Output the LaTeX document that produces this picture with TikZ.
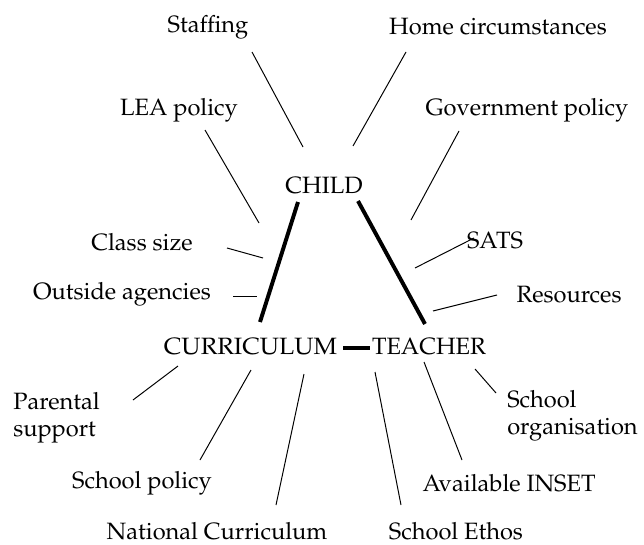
\documentclass[tikz,border=0pt]{standalone}
\usepackage[T1]{fontenc}
\usepackage{mathpazo}
\usetikzlibrary{positioning}

\begin{document}
\begin{tikzpicture}[x=0.025cm, y=-0.025cm,
    every node/.style={font=\fontsize{16.8}{19.5}\selectfont, inner sep=0pt},
    hub/.style={},
    factor/.style={align=center},
    factorleft/.style={align=left, anchor=west},
    spoke/.style={line width=0.7pt, black},
    link/.style={line width=2.8pt, black}
  ]
  \useasboundingbox (0,0) rectangle (644,545);

  % Dreieck in der Mitte
  \node[hub] (child)   at (324,186) {CHILD};
  \node[hub] (curric)  at (250.5,347) {\scalebox{1.05}[1]{CURRICULUM}};
  \node[hub] (teacher) at (429,347) {TEACHER};

  \coordinate (ch-l) at (298,202); \coordinate (cu-t) at (260,322);
  \coordinate (ch-r) at (358,201); \coordinate (te-t) at (425,324);
  \coordinate (cu-r) at (343,348); \coordinate (te-l) at (370,348);
  \draw[link] (ch-l) -- (cu-t);
  \draw[link] (ch-r) -- (te-t);
  \draw[link] (cu-r) -- (te-l);

  % Einflussfaktoren oben
  \node[factor] (staffing) at (208,27)  {Staffing};
  \node[factor] (home)     at (498,27)  {Home circumstances};
  \node[factor] (lea)      at (179,110) {LEA policy};
  \node[factor] (gov)      at (527,110) {Government policy};
  \node[factor] (class)    at (142,242) {Class size};
  \node[factor] (sats)     at (495,241) {SATS};
  \node[factor] (outside)  at (122,294) {Outside agencies};
  \node[factor] (res)      at (569,295) {Resources};

  % Einflussfaktoren unten
  \node[factorleft] (parent) at (13,418)  {Parental\\support};
  \node[factor] (spolicy)    at (142,483) {School policy};
  \node[factor] (natcur)     at (217,531) {National Curriculum};
  \node[factor] (ethos)      at (456,531) {School Ethos};
  \node[factor] (inset)      at (509,483) {Available INSET};
  \node[factorleft] (org)    at (507,416) {School\\organisation};

  % Verbindungslinien (mit Abstand zu den Texten)
  \coordinate (stf-a) at (252,52);  \coordinate (stf-b) at (303,147);
  \coordinate (hom-a) at (406,52);  \coordinate (hom-b) at (353,146);
  \coordinate (lea-a) at (205,130); \coordinate (lea-b) at (259,223);
  \coordinate (gov-a) at (459,131); \coordinate (gov-b) at (411,220);
  \coordinate (cls-a) at (227,248); \coordinate (cls-b) at (263,258);
  \coordinate (sat-a) at (474,238); \coordinate (sat-b) at (415,268);
  \coordinate (out-a) at (233,296); \coordinate (out-b) at (257,296);
  \coordinate (res-a) at (497,295); \coordinate (res-b) at (433,311);
  \coordinate (par-a) at (133,400); \coordinate (par-b) at (178,366);
  \coordinate (spo-a) at (200,460); \coordinate (spo-b) at (251,370);
  \coordinate (nat-a) at (276,505); \coordinate (nat-b) at (304,374);
  \coordinate (eth-a) at (401,505); \coordinate (eth-b) at (375,372);
  \coordinate (ins-a) at (462,460); \coordinate (ins-b) at (424,362);
  \coordinate (org-a) at (496,393); \coordinate (org-b) at (475,369);

  \draw[spoke] (stf-a) -- (stf-b);
  \draw[spoke] (hom-a) -- (hom-b);
  \draw[spoke] (lea-a) -- (lea-b);
  \draw[spoke] (gov-a) -- (gov-b);
  \draw[spoke] (cls-a) -- (cls-b);
  \draw[spoke] (sat-a) -- (sat-b);
  \draw[spoke] (out-a) -- (out-b);
  \draw[spoke] (res-a) -- (res-b);
  \draw[spoke] (par-a) -- (par-b);
  \draw[spoke] (spo-a) -- (spo-b);
  \draw[spoke] (nat-a) -- (nat-b);
  \draw[spoke] (eth-a) -- (eth-b);
  \draw[spoke] (ins-a) -- (ins-b);
  \draw[spoke] (org-a) -- (org-b);

\end{tikzpicture}
\end{document}
